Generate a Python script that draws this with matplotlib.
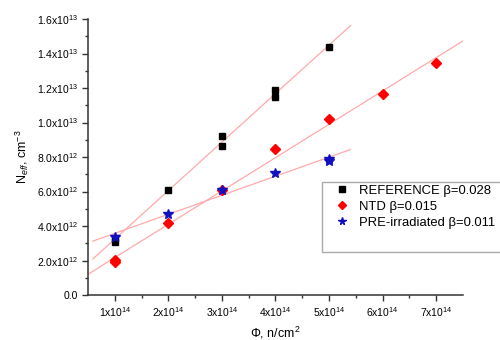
import numpy as np
import matplotlib.pyplot as plt
from matplotlib.patches import Rectangle

plt.rcParams['font.family'] = ['Liberation Sans', 'DejaVu Sans']
plt.rcParams['mathtext.fontset'] = 'custom'
plt.rcParams['mathtext.rm'] = 'Liberation Sans'
plt.rcParams['mathtext.it'] = 'Liberation Sans:italic'

# fluence (n/cm^2) and effective doping (cm^-3)
ref_x = np.array([1, 1, 2, 3, 3, 4, 4, 5]) * 1e14
ref_y = np.array([3.1, 3.3, 6.1, 9.2, 8.65, 11.9, 11.5, 14.4]) * 1e12

ntd_x = np.array([1, 1, 2, 3, 4, 5, 6, 7]) * 1e14
ntd_y = np.array([1.9, 2.05, 4.17, 6.09, 8.46, 10.2, 11.65, 13.45]) * 1e12

pre_x = np.array([1, 2, 3, 4, 5, 5]) * 1e14
pre_y = np.array([3.36, 4.72, 6.09, 7.07, 7.8, 7.9]) * 1e12

labels = ['REFERENCE β=0.028', 'NTD β=0.015', 'PRE-irradiated β=0.011']

xticks = np.arange(1, 8) * 1e14
xlabels = [r'%dx10$^{14}$' % i for i in range(1, 8)]
yticks = np.arange(0, 17, 2) * 1e12
ylabels = ['0.0'] + [r'%.1fx10$^{12}$' % v for v in range(2, 10, 2)] + \
    [r'%.1fx10$^{13}$' % (v / 10) for v in range(10, 17, 2)]

fig = plt.figure(figsize=(5, 3.4), dpi=100)
ax = fig.add_axes([0.176, 0.132, 0.75, 0.812])

line_kw = dict(color='#ffaaaa', lw=0.9, zorder=1)
for xs, ys, lo, hi in [(ref_x, ref_y, 0.59e14, 5.4e14),
                       (ntd_x, ntd_y, 0.5e14, 7.5e14),
                       (pre_x, pre_y, 0.59e14, 5.4e14)]:
    k, b = np.polyfit(xs, ys, 1)
    xx = np.array([lo, hi])
    ax.plot(xx, k * xx + b, **line_kw)

h1, = ax.plot(ref_x, ref_y, 's', color='black', ms=5, ls='none', zorder=3)
h2, = ax.plot(ntd_x, ntd_y, 'D', color='red', ms=5.5, mec='red', ls='none', zorder=3)
h3, = ax.plot(pre_x, pre_y, '*', color='#1010c0', ms=7, ls='none', zorder=4)

ax.set_xlim(0.5e14, 7.5e14)
ax.set_ylim(0, 1.6e13)
ax.set_xticks(xticks)
ax.set_xticklabels(xlabels, fontsize=7.5)
ax.set_xticks(np.arange(1.5, 7.5, 1) * 1e14, minor=True)
ax.set_yticks(yticks)
ax.set_yticklabels(ylabels, fontsize=7.5)
ax.set_yticks(np.arange(1, 16, 2) * 1e12, minor=True)
ax.tick_params(which='major', length=4, width=1, direction='out', color='#333333')
ax.tick_params(which='minor', length=2.5, width=1, direction='out', color='#333333')
for s in ['top', 'right']:
    ax.spines[s].set_visible(False)
for s in ['left', 'bottom']:
    ax.spines[s].set_linewidth(1.1)
    ax.spines[s].set_color('#333333')

ax.set_ylabel(r'N$_{eff}$, cm$^{-3}$', fontsize=9)
ax.set_xlabel(r'$\Phi$, n/cm$^2$', fontsize=9, labelpad=4)

# legend box
fig.add_artist(Rectangle((0.644, 0.259), 0.37, 0.206, transform=fig.transFigure,
                         fill=False, edgecolor='#aaaaaa', lw=1, clip_on=False))
ax.legend(handles=[h1, h2, h3], labels=labels, loc='upper left',
          bbox_to_anchor=(0.635, 0.42), frameon=False, fontsize=9.4,
          handletextpad=0.5, labelspacing=0.3, borderaxespad=0,
          handlelength=1.6, markerscale=0.8)

fig.savefig('out.png', dpi=100)
